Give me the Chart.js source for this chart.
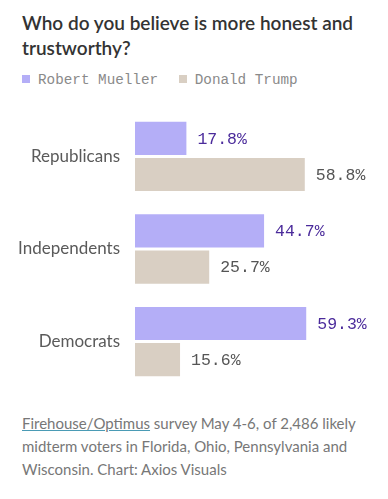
<!DOCTYPE html>
<html>
<head>
<meta charset="utf-8">
<script src="https://cdn.jsdelivr.net/npm/chart.js@4.4.0/dist/chart.umd.min.js"></script>
<style>
  body { margin: 0; background: #fff; width: 388px; height: 499px; overflow: hidden; font-family: "Lato", "Noto Sans", sans-serif; }
  .title { position: absolute; left: 22px; top: 10px; width: 360px; font-size: 19px; font-weight: 600; color: #333; line-height: 25px; }
  .legend { position: absolute; left: 22px; top: 72px; font-family: "Liberation Mono", monospace; font-size: 14.3px; color: #8a8a8a; }
  .legend span.sw { display: inline-block; width: 8px; height: 8px; margin-right: 8px; vertical-align: 1px; }
  .legend span.item { margin-right: 12px; }
  .chart { position: absolute; left: 0; top: 93px; width: 388px; height: 312px; }
  .caption { position: absolute; left: 22px; top: 412px; width: 362px; font-size: 15px; color: #777; line-height: 23px; }
  .caption u { text-decoration-color: #4a9bb5; }
</style>
</head>
<body>
<div class="title">Who do you believe is more honest and trustworthy?</div>
<div class="legend">
  <span class="item"><span class="sw" style="background:#b4aef7"></span>Robert Mueller</span>
  <span class="item"><span class="sw" style="background:#d9cfc3"></span>Donald Trump</span>
</div>
<div class="chart"><canvas id="chart" width="388" height="312"></canvas></div>
<div class="caption"><u>Firehouse/Optimus</u> survey May 4-6, of 2,486 likely midterm voters in Florida, Ohio, Pennsylvania and Wisconsin. Chart: Axios Visuals</div>
<script>
const categories = ['Republicans', 'Independents', 'Democrats'];
const muellerValues = [17.8, 44.7, 59.3];
const trumpValues = [58.8, 25.7, 15.6];

// Draw the value labels at the end of each bar
const valueLabels = {
    id: 'valueLabels',
    afterDatasetsDraw(chart) {
        const ctx = chart.ctx;
        ctx.save();
        ctx.font = '16.5px "Liberation Mono", monospace';
        ctx.textBaseline = 'middle';
        ctx.textAlign = 'left';
        chart.data.datasets.forEach((ds, i) => {
            ctx.fillStyle = ds.labelColor;
            chart.getDatasetMeta(i).data.forEach((bar, j) => {
                ctx.fillText(ds.data[j].toFixed(1) + '%', bar.x + 11, bar.y + 1);
            });
        });
        ctx.restore();
    }
};

new Chart(document.getElementById('chart'), {
    type: 'bar',
    data: {
        labels: categories,
        datasets: [
            { label: 'Robert Mueller', data: muellerValues, backgroundColor: '#b4aef7', labelColor: '#4b2b9b' },
            { label: 'Donald Trump', data: trumpValues, backgroundColor: '#d9cfc3', labelColor: '#555' }
        ]
    },
    options: {
        indexAxis: 'y',
        responsive: false,
        animation: false,
        events: [],
        layout: { padding: { top: 0, bottom: 0, right: 22, left: 0 } },
        datasets: { bar: { categoryPercentage: 0.78, barPercentage: 0.92 } },
        plugins: { legend: { display: false }, tooltip: { enabled: false } },
        scales: {
            x: { display: false, min: 0, max: 80 },
            y: {
                grid: { display: false },
                border: { display: false },
                afterFit(scale) { scale.width = 135; },
                ticks: {
                    padding: 7,
                    color: '#5a5a5a',
                    font: { family: 'Lato, "Noto Sans", sans-serif', size: 17 }
                }
            }
        }
    },
    plugins: [valueLabels]
});
</script>
</body>
</html>
